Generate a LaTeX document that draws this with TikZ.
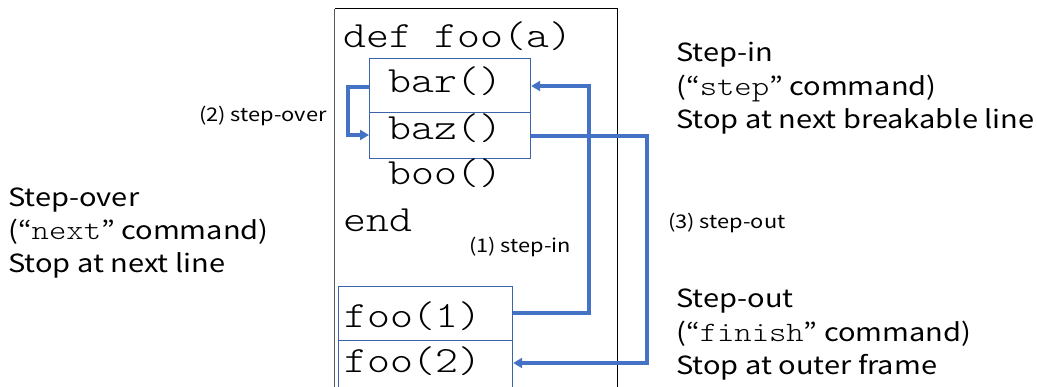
\documentclass[tikz,border=0pt]{standalone}
\usepackage{fontspec}
\setmainfont[FakeStretch=1.16]{Noto Sans CJK JP}
\newfontfamily\codefont[FakeStretch=1.18]{Latin Modern Mono Light}
\usetikzlibrary{arrows.meta}
\definecolor{arrowblue}{HTML}{4472C4}
\definecolor{boxblue}{HTML}{3B64AD}
\definecolor{framegray}{HTML}{595959}
\newcommand{\cw}[1]{{\codefont\fontsize{28}{28}\selectfont #1}}
\begin{document}
\begin{tikzpicture}[x=1pt,y=-1pt,
  code/.style={font=\codefont\fontsize{37}{37}\selectfont, anchor=base west, inner sep=0pt},
  codebox/.style={draw=boxblue, line width=1.2pt, inner sep=0pt},
  desc/.style={font=\fontsize{25}{30}\selectfont, anchor=base west, inner sep=0pt},
  small/.style={font=\fontsize{18.8}{20}\selectfont, inner sep=0pt},
  flow/.style={draw=arrowblue, line width=3.5pt, -{Triangle[length=9pt,width=10pt]}}
]
\useasboundingbox (0,0) rectangle (1037,387);
% frame
\draw[framegray, line width=1.5pt] (334.5,9) -- (334.5,390);
\draw[black, line width=1pt] (334.5,9) -- (617.5,9) -- (617.5,390);
% code boxes
\node[codebox, minimum width=161pt, minimum height=54pt, anchor=north west] (bar) at (369,58) {};
\node[codebox, minimum width=161pt, minimum height=46pt, anchor=north west] (baz) at (369,112) {};
\node[codebox, minimum width=174pt, minimum height=54pt, anchor=north west] (f1) at (338,286) {};
\node[codebox, minimum width=174pt, minimum height=47pt, anchor=north west] (f2) at (338,340) {};
% code text
\node[code] (def) at (343,48) {def foo(a)};
\node[code] (bart) at (388,93) {bar()};
\node[code] (bazt) at (388,140) {baz()};
\node[code] (boo) at (388,185) {boo()};
\node[code] (end) at (343,232) {end};
\node[code] (f1t) at (344,328) {foo(1)};
\node[code] (f2t) at (344,373) {foo(2)};
% arrows
\coordinate (a1) at (589,313);
\coordinate (a2) at (589,86);
\draw[flow] (f1.east |- a1) -- (a1) -- (a2) -- (bar.east |- a2);
\coordinate (b1) at (348,87);
\coordinate (b2) at (348,135);
\draw[flow] (bar.west |- b1) -- (b1) -- (b2) -- (baz.west |- b2);
\coordinate (c1) at (647,136);
\coordinate (c2) at (647,363);
\draw[flow] (baz.east |- c1) -- (c1) -- (c2) -- (f2.east |- c2);
% labels
\node[small, anchor=base east] (l2) at (327,122) {(2) step-over};
\node[small, anchor=base west] (l1) at (469,253) {(1) step-in};
\node[small, anchor=base west] (l3) at (668,229) {(3) step-out};
% descriptions
\node[desc] (din1) at (676,62) {Step-in};
\node[desc] (din2) at (676,95.5) {(“\cw{step}” command)};
\node[desc] (din3) at (676,129) {Stop at next breakable line};
\node[desc] (dout1) at (676,308) {Step-out};
\node[desc] (dout2) at (676,342) {(“\cw{finish}” command)};
\node[desc] (dout3) at (676,375) {Stop at outer frame};
\node[desc] (dov1) at (8,207) {Step-over};
\node[desc] (dov2) at (8,240) {(“\cw{next}” command)};
\node[desc] (dov3) at (8,273) {Stop at next line};
\end{tikzpicture}
\end{document}
